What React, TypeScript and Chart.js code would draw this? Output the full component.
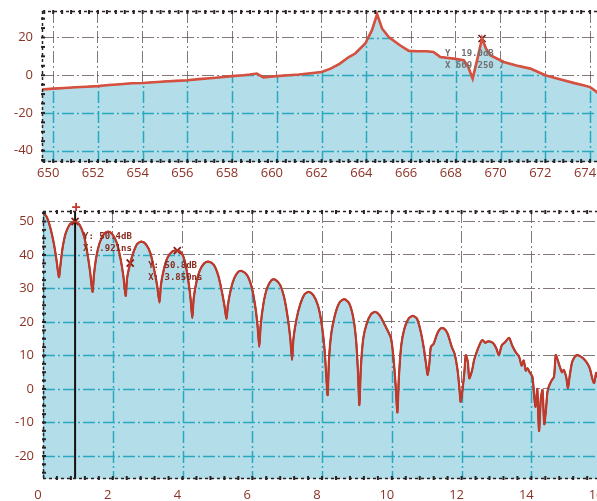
import React, { useEffect, useRef } from "react";
import { Chart, registerables } from "chart.js";
Chart.register(...registerables);

// ---------- Top chart: spectrum (x in frequency units, y in dB) ----------
const topFreq = [649.5, 650, 650.5, 651, 651.5, 652, 652.5, 653, 653.5, 654, 654.5, 655, 655.5, 656, 656.5, 657, 657.5, 658, 658.5, 658.8, 659.1, 659.4, 659.7, 660, 660.5, 661, 661.5, 662, 662.4, 662.8, 663.2, 663.5, 663.95, 664.25, 664.48, 664.7, 665.0, 665.5, 665.9, 666.3, 666.7, 667.0, 667.3, 667.9, 668.35, 668.55, 668.75, 668.95, 669.17, 669.35, 669.54, 670.14, 670.7, 671.33, 672.0, 672.4, 672.82, 673.3, 673.7, 674.0, 674.3, 674.6];
const topLevel = [-7.6, -7.1, -6.8, -6.4, -6.1, -5.8, -5.2, -4.8, -4.3, -4.1, -3.7, -3.3, -3, -2.7, -2.1, -1.6, -1.1, -0.5, 0, 0.4, 0.9, -1.2, -0.8, -0.5, 0, 0.4, 1, 1.7, 3.5, 6, 9.5, 11.5, 16.8, 23.9, 32.4, 24.8, 20.3, 15.9, 12.9, 12.7, 12.7, 12.3, 9.7, 8.8, 8, 4.5, -1.8, 8, 19.5, 14, 10.6, 7, 5.2, 3.5, 0, -1.3, -2.7, -4.2, -5.3, -6.3, -8.9, -13];
const topXTicks = [650, 652, 654, 656, 658, 660, 662, 664, 666, 668, 670, 672, 674, 676];
const topYTicks = [-40, -20, 0, 20];
const topMarkerX = [669.17];
const topMarkerY = [19.5];
const topNoteLines = ["Y  19.0dB", "X 669.250 /"];

// ---------- Bottom chart: time domain response ----------
const botTime = [0, 0.1, 0.2, 0.3, 0.38, 0.43, 0.46,
  0.5, 0.56, 0.65, 0.78, 0.92, 1.05, 1.18, 1.28, 1.35, 1.42,
  1.46, 1.53, 1.62, 1.75, 1.88, 2.0, 2.12, 2.22, 2.3, 2.37,
  2.41, 2.5, 2.6, 2.7, 2.82, 2.95, 3.08, 3.18, 3.27, 3.34,
  3.38, 3.46, 3.56, 3.7, 3.85, 3.98, 4.08, 4.17, 4.23, 4.28,
  4.32, 4.4, 4.5, 4.62, 4.75, 4.9, 5.02, 5.12, 5.2, 5.26,
  5.3, 5.38, 5.48, 5.6, 5.7, 5.85, 5.98, 6.08, 6.15, 6.2,
  6.24, 6.32, 6.42, 6.55, 6.65, 6.8, 6.92, 7.02, 7.09, 7.14,
  7.18, 7.27, 7.38, 7.5, 7.62, 7.75, 7.88, 7.98, 8.07, 8.12, 8.16,
  8.2, 8.27, 8.38, 8.5, 8.64, 8.78, 8.9, 8.98, 9.03, 9.07,
  9.11, 9.18, 9.28, 9.4, 9.52, 9.65, 9.78, 9.9, 9.98, 10.05, 10.11, 10.16,
  10.2, 10.27, 10.36, 10.48, 10.6, 10.72, 10.82, 10.92, 10.98, 11.03,
  11.08, 11.12, 11.2, 11.3, 11.4, 11.5, 11.6, 11.72, 11.8, 11.88, 11.94, 11.97,
  12.0, 12.08, 12.12, 12.18, 12.22, 12.3, 12.36, 12.45, 12.55, 12.6,
  12.68, 12.75, 12.84, 12.92, 13.0, 13.07, 13.15, 13.25, 13.36, 13.45,
  13.55, 13.65, 13.72, 13.78, 13.84, 13.89, 13.95, 14.03, 14.08, 14.12,
  14.17, 14.22, 14.27, 14.32, 14.37, 14.42, 14.46, 14.5, 14.58, 14.65,
  14.7, 14.76, 14.82, 14.88, 14.93, 15.0, 15.05, 15.1, 15.17, 15.24,
  15.3, 15.4, 15.5, 15.6, 15.68, 15.75, 15.8, 15.86, 15.92, 16.0];
const botLevel = [52.5, 51.5, 48.5, 44, 39, 35, 33.4,
  37, 42, 46.5, 49.3, 50, 49, 45.5, 40, 35, 29,
  34, 39.5, 43.5, 46.3, 47, 46, 43.5, 39, 34, 27.8,
  33, 37.5, 41, 43.3, 44, 43.2, 40.5, 36, 31, 25.8,
  31, 35.5, 39, 41, 41.3, 40.5, 37.5, 32, 27, 21.2,
  27, 32, 35.5, 37.5, 38, 37, 34, 29.5, 25, 20.9,
  25, 29.5, 33, 35, 35.2, 34, 30.5, 25, 19, 12.6,
  19, 25.5, 30, 32.5, 32.7, 31, 27, 21, 15, 8.7,
  15, 21, 25.5, 28.3, 29, 28, 25, 20, 12, 4, -1.8,
  9, 17, 22.5, 25.8, 26.8, 25.5, 21, 14, 5, -4.8,
  6, 15, 19.5, 22.3, 23, 22, 19.5, 17, 15, 9, 1, -7,
  3, 13, 18, 21, 21.8, 21, 17.5, 12, 7.5, 4.2,
  8, 12.6, 13.5, 16.5, 18.1, 18, 16.5, 12.5, 10.5, 6, 0, -3.8,
  -2.5, 5, 10.1, 8, 3.2, 5.5, 8.7, 11.5, 14, 14.6,
  13.8, 14.2, 14.1, 13.5, 12, 10.1, 13, 14, 15.3, 13,
  11, 9.6, 7, 8.5, 5.5, 6.2, 5, 3.7, -2, -5.3,
  0, -12.5, -3, -0.3, -10.5, -6, -1, 0.7, 2.5, 3.7,
  10.1, 8.5, 6.5, 5, 5.7, 3.5, 0.3, 4, 8.1, 9.5,
  10.1, 9.8, 9, 7.7, 6, 3, 1.8, 4.8, 3, 2];
const botXTicks = [0, 2, 4, 6, 8, 10, 12, 14, 16];
const botYTicks = [-20, -10, 0, 10, 20, 30, 40, 50];
const botMarkerX = [0.92, 2.5, 3.85];
const botMarkerY = [50, 37.6, 41.3];
const botCursorX = 0.92;
const botTopMarkX = [0.95];
const botTopMarkY = [54.3];
const botNote1 = ["Y: 50.4dB", "X: .921ns"];
const botNote2 = ["Y: 50.8dB", "X: 3.850ns"];

const FILL = "#b3dde9";
const TEAL = "#2aa8be";
const GRID = "rgba(100,85,85,0.8)";
const LABEL = "#8b3326";
const DASH = [12, 3, 2, 3];

const pairs = (xs: number[], ys: number[]) => xs.map((x, i) => ({ x, y: ys[i] }));

const tealGrid = {
  id: "tealGrid",
  beforeDatasetsDraw(chart: any) {
    const { ctx, chartArea: a, scales } = chart;
    const pts = chart.getDatasetMeta(0).data;
    ctx.save();
    ctx.beginPath();
    ctx.rect(a.left, a.top, a.right - a.left, a.bottom - a.top);
    ctx.clip();
    ctx.beginPath();
    ctx.moveTo(pts[0].x, a.bottom);
    pts.forEach((p: any) => ctx.lineTo(p.x, p.y));
    ctx.lineTo(pts[pts.length - 1].x, a.bottom);
    ctx.closePath();
    ctx.clip();
    ctx.strokeStyle = TEAL;
    ctx.lineWidth = 1.5;
    ctx.setLineDash(DASH);
    scales.x.ticks.forEach((t: any) => {
      const px = Math.round(scales.x.getPixelForValue(t.value)) + 0.5;
      ctx.beginPath();
      ctx.moveTo(px, a.top);
      ctx.lineTo(px, a.bottom);
      ctx.stroke();
    });
    scales.y.ticks.forEach((t: any) => {
      const py = Math.round(scales.y.getPixelForValue(t.value)) + 0.5;
      ctx.beginPath();
      ctx.moveTo(a.left, py);
      ctx.lineTo(a.right, py);
      ctx.stroke();
    });
    ctx.restore();
  },
};

const frame = {
  id: "frame",
  afterDatasetsDraw(chart: any) {
    const { ctx, chartArea: a, scales } = chart;
    ctx.save();
    ctx.strokeStyle = "#2a2222";
    ctx.lineWidth = 1.5;
    ctx.setLineDash([3, 3]);
    ctx.beginPath();
    ctx.moveTo(a.left, a.top + 0.5);
    ctx.lineTo(a.right, a.top + 0.5);
    ctx.moveTo(a.left + 0.5, a.top);
    ctx.lineTo(a.left + 0.5, a.bottom);
    ctx.moveTo(a.left, a.bottom - 0.5);
    ctx.lineTo(a.right, a.bottom - 0.5);
    ctx.stroke();
    ctx.setLineDash([]);
    ctx.fillStyle = "#2a2222";
    const xt = scales.x.ticks;
    if (xt.length > 1) {
      const step = (xt[1].value - xt[0].value) / 5;
      for (let v = xt[0].value - step * 5; v < scales.x.max; v += step) {
        const px = scales.x.getPixelForValue(v);
        if (px < a.left || px > a.right) continue;
        ctx.fillRect(px - 1, a.top - 1, 2, 4);
        ctx.fillRect(px - 1, a.bottom - 3, 2, 4);
      }
    }
    const yt = scales.y.ticks;
    if (yt.length > 1) {
      const step = (yt[1].value - yt[0].value) / 4;
      for (let v = yt[0].value - step * 4; v < scales.y.max; v += step) {
        const py = scales.y.getPixelForValue(v);
        if (py < a.top || py > a.bottom) continue;
        ctx.fillRect(a.left - 1, py - 1, 4, 2);
      }
    }
    ctx.restore();
  },
};

function notesPlugin(notes: { x: number; y: number; dx: number; dy: number; lines: string[]; color: string }[]) {
  return {
    id: "notes",
    afterDatasetsDraw(chart: any) {
      const { ctx, scales } = chart;
      ctx.save();
      ctx.font = 'bold 9px "DejaVu Sans Mono"';
      ctx.textBaseline = "middle";
      notes.forEach((n) => {
        const px = scales.x.getPixelForValue(n.x) + n.dx;
        const py = scales.y.getPixelForValue(n.y) + n.dy;
        ctx.fillStyle = n.color;
        n.lines.forEach((l, i) => ctx.fillText(l, px, py + i * 12));
      });
      ctx.restore();
    },
  };
}

const fixedTicks = (vals: number[]) => (s: any) => {
  s.ticks = vals.filter((v) => v >= s.min && v <= s.max).map((v) => ({ value: v }));
};

function axisX(min: number, max: number, h: number, pad: number, vals: number[]) {
  return {
    type: "linear" as const,
    min,
    max,
    afterBuildTicks: fixedTicks(vals),
    afterFit: (s: any) => {
      s.height = h;
      s.paddingLeft = 0;
      s.paddingRight = 0;
      s.paddingTop = 0;
      s.paddingBottom = 0;
    },
    ticks: {
      padding: pad,
      labelOffset: -5,
      color: LABEL,
      font: { family: "Open Sans", size: 13 },
      maxRotation: 0,
      autoSkip: false,
    },
    grid: { color: GRID, lineWidth: 1, drawTicks: false },
    border: { display: false, dash: DASH },
  };
}

function axisY(min: number, max: number, w: number, vals: number[]) {
  return {
    type: "linear" as const,
    min,
    max,
    afterBuildTicks: fixedTicks(vals),
    afterFit: (s: any) => {
      s.width = w;
      s.paddingLeft = 0;
      s.paddingRight = 0;
      s.paddingTop = 0;
      s.paddingBottom = 0;
    },
    ticks: {
      padding: 9,
      color: LABEL,
      font: { family: "Open Sans", size: 13 },
    },
    grid: { color: GRID, lineWidth: 1, drawTicks: false },
    border: { display: false, dash: DASH },
  };
}

export default function App() {
  const topRef = useRef<HTMLCanvasElement>(null);
  const botRef = useRef<HTMLCanvasElement>(null);

  useEffect(() => {
    const topPts = pairs(topFreq, topLevel);
    const top = new Chart(topRef.current!, {
      type: "line",
      data: {
        datasets: [
          { data: topPts, borderColor: "#d5503e", borderWidth: 2.6, fill: "start", backgroundColor: FILL, pointRadius: 0, tension: 0 },
          { data: topPts, borderColor: "#5a1610", borderWidth: 1.2, fill: false, pointRadius: 0, tension: 0 },
          { data: pairs(topMarkerX, topMarkerY), showLine: false, pointStyle: "crossRot", pointRadius: 5, borderColor: "#5a1610", borderWidth: 1.5 },
        ] as any,
      },
      options: {
        animation: false,
        responsive: false,
        events: [],
        layout: { padding: { top: 11, right: 14, left: 0, bottom: 0 } },
        plugins: { legend: { display: false }, tooltip: { enabled: false }, filler: { drawTime: "beforeDatasetsDraw" } as any },
        scales: { x: axisX(649.5, 676.5, 24, 3, topXTicks), y: axisY(-46.04, 34.06, 42, topYTicks) } as any,
      },
      plugins: [tealGrid, frame, notesPlugin([{ x: topMarkerX[0], y: topMarkerY[0], dx: -37, dy: 15, lines: topNoteLines, color: "#707070" }])],
    });

    const botPts = pairs(botTime, botLevel);
    const bot = new Chart(botRef.current!, {
      type: "line",
      data: {
        datasets: [
          { data: botPts, borderColor: "#c0392b", borderWidth: 2.2, fill: "start", backgroundColor: FILL, pointRadius: 0, tension: 0.25 },
          { data: botPts, borderColor: "#3f0f0a", borderWidth: 1.6, fill: false, pointRadius: 0, tension: 0.25 },
          { data: [{ x: botCursorX, y: -26.87 }, { x: botCursorX, y: 53.13 }], borderColor: "#141010", borderWidth: 2, pointRadius: 0, fill: false },
          { data: pairs(botMarkerX, botMarkerY), showLine: false, pointStyle: "crossRot", pointRadius: 5, borderColor: "#8a1c14", borderWidth: 1.8 },
          { data: pairs(botTopMarkX, botTopMarkY), showLine: false, pointStyle: "cross", pointRadius: 4, borderColor: "#c0392b", borderWidth: 1.8, clip: false },
        ] as any,
      },
      options: {
        animation: false,
        responsive: false,
        events: [],
        layout: { padding: { top: 21, right: 14, left: 0, bottom: 0 } },
        plugins: { legend: { display: false }, tooltip: { enabled: false }, filler: { drawTime: "beforeDatasetsDraw" } as any },
        scales: { x: axisX(0, 17, 22, 8, botXTicks), y: axisY(-26.87, 53.13, 43, botYTicks) } as any,
      },
      plugins: [
        tealGrid,
        frame,
        notesPlugin([
          { x: botMarkerX[0], y: botMarkerY[0], dx: 8, dy: 15, lines: botNote1, color: "#8a2a1e" },
          { x: botMarkerX[1], y: botMarkerY[1], dx: 18, dy: 3, lines: botNote2, color: "#8a2a1e" },
        ]),
      ],
    });

    return () => {
      top.destroy();
      bot.destroy();
    };
  }, []);

  return (
    <div style={{ position: "fixed", left: 0, top: 0, width: 597, height: 501, overflow: "hidden", background: "#fff" }}>
      <canvas ref={topRef} width={660} height={186} style={{ position: "absolute", left: 0, top: 0, width: 660, height: 186 }} />
      <canvas ref={botRef} width={650} height={311} style={{ position: "absolute", left: 0, top: 190, width: 650, height: 311 }} />
    </div>
  );
}
